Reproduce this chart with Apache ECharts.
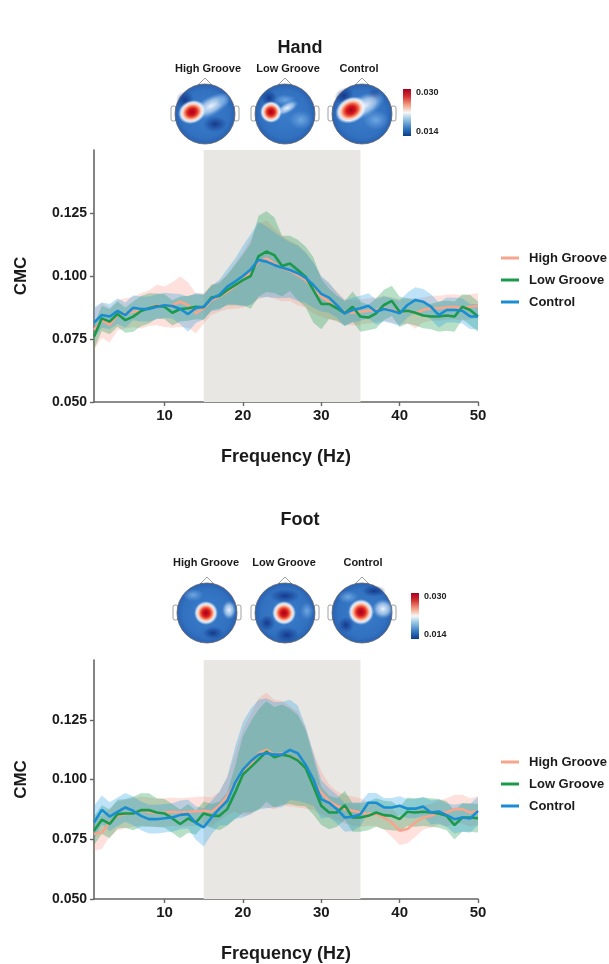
<!DOCTYPE html>
<html><head><meta charset="utf-8">
<script src="https://cdn.jsdelivr.net/npm/echarts@6/dist/echarts.min.js"></script>
<style>html,body{margin:0;padding:0;background:#fff}#c{width:609px;height:964px}</style>
</head><body><div id="c"></div>
<script>
// ---------- data ----------
const freq = [1,2,3,4,5,6,7,8,9,10,11,12,13,14,15,16,17,18,19,20,21,22,23,24,25,26,27,28,29,30,31,32,33,34,35,36,37,38,39,40,41,42,43,44,45,46,47,48,49,50];
const groupNames = ['High Groove','Low Groove','Control'];
const panelTitles = ['Hand','Foot'];
const xTicks = [10,20,30,40,50];
const yTicks = [0.05,0.075,0.1,0.125];
const shadeRange = [15,35];
const colorbarLabels = ['0.030','0.014'];

// Hand: means
const handHigh = [0.0786,0.0825,0.0806,0.0845,0.0852,0.0858,0.0862,0.0872,0.0885,0.0878,0.0885,0.0898,0.0885,0.0852,0.0872,0.0905,0.0918,0.0938,0.0960,0.0984,0.1017,0.1057,0.1070,0.1050,0.1030,0.1021,0.1004,0.0984,0.0951,0.0918,0.0898,0.0878,0.0858,0.0854,0.0858,0.0862,0.0865,0.0872,0.0865,0.0858,0.0862,0.0852,0.0865,0.0872,0.0872,0.0876,0.0878,0.0872,0.0878,0.0882];
const handLow = [0.0759,0.0832,0.0819,0.0849,0.0825,0.0839,0.0861,0.0872,0.0881,0.0878,0.0854,0.0869,0.0872,0.0878,0.0876,0.0915,0.0921,0.0944,0.0964,0.0984,0.1000,0.1079,0.1097,0.1083,0.1040,0.1050,0.1024,0.0997,0.0944,0.0889,0.0889,0.0872,0.0852,0.0878,0.0839,0.0835,0.0852,0.0885,0.0901,0.0858,0.0862,0.0854,0.0843,0.0839,0.0839,0.0843,0.0839,0.0878,0.0865,0.0839];
const handCtrl = [0.0815,0.0845,0.0839,0.0861,0.0845,0.0874,0.0869,0.0869,0.0878,0.0884,0.0881,0.0869,0.0849,0.0873,0.0878,0.0910,0.0925,0.0958,0.0978,0.1000,0.1026,0.1064,0.1057,0.1044,0.1033,0.1024,0.1011,0.0993,0.0964,0.0929,0.0914,0.0884,0.0852,0.0865,0.0872,0.0882,0.0858,0.0869,0.0862,0.0852,0.0885,0.0905,0.0898,0.0878,0.0845,0.0865,0.0865,0.0862,0.0839,0.0839];
// Hand: ribbon half-widths
const handHighSE = [0.008,0.007,0.007,0.006,0.006,0.006,0.007,0.007,0.008,0.008,0.009,0.010,0.009,0.008,0.006,0.006,0.006,0.007,0.009,0.011,0.013,0.015,0.015,0.014,0.013,0.012,0.012,0.011,0.010,0.008,0.007,0.006,0.005,0.005,0.005,0.005,0.005,0.005,0.005,0.005,0.005,0.006,0.005,0.005,0.005,0.005,0.005,0.005,0.005,0.005];
const handLowSE = [0.005,0.005,0.005,0.005,0.005,0.006,0.006,0.006,0.005,0.005,0.005,0.005,0.005,0.005,0.005,0.005,0.005,0.006,0.008,0.010,0.013,0.016,0.016,0.015,0.012,0.011,0.012,0.012,0.013,0.010,0.006,0.005,0.005,0.006,0.006,0.005,0.006,0.006,0.006,0.006,0.005,0.005,0.005,0.005,0.006,0.006,0.006,0.005,0.006,0.006];
const handCtrlSE = [0.006,0.005,0.005,0.005,0.005,0.005,0.005,0.005,0.005,0.005,0.005,0.006,0.007,0.006,0.005,0.005,0.006,0.007,0.009,0.012,0.014,0.015,0.014,0.013,0.012,0.011,0.011,0.010,0.009,0.007,0.006,0.005,0.005,0.005,0.005,0.005,0.005,0.005,0.005,0.005,0.005,0.005,0.005,0.005,0.005,0.005,0.005,0.005,0.005,0.005];

// Foot: means
const footHigh = [0.0772,0.0779,0.0820,0.0848,0.0855,0.0862,0.0869,0.0865,0.0859,0.0862,0.0865,0.0862,0.0865,0.0867,0.0869,0.0865,0.0890,0.0931,0.0986,0.1028,0.1062,0.1110,0.1124,0.1104,0.1110,0.1097,0.1083,0.1048,0.0993,0.0945,0.0910,0.0890,0.0876,0.0869,0.0862,0.0855,0.0855,0.0841,0.0820,0.0786,0.0793,0.0820,0.0841,0.0848,0.0862,0.0862,0.0876,0.0876,0.0862,0.0869];
const footLow = [0.0786,0.0832,0.0814,0.0855,0.0858,0.0858,0.0872,0.0872,0.0862,0.0858,0.0837,0.0814,0.0837,0.0820,0.0858,0.0848,0.0848,0.0876,0.0945,0.1021,0.1052,0.1083,0.1117,0.1093,0.1104,0.1097,0.1080,0.1048,0.0972,0.0890,0.0862,0.0862,0.0892,0.0841,0.0841,0.0848,0.0862,0.0851,0.0848,0.0834,0.0865,0.0862,0.0865,0.0862,0.0858,0.0848,0.0809,0.0841,0.0841,0.0838];
const footCtrl = [0.0820,0.0873,0.0845,0.0865,0.0883,0.0869,0.0848,0.0834,0.0834,0.0838,0.0841,0.0852,0.0855,0.0818,0.0800,0.0841,0.0878,0.0910,0.0986,0.1041,0.1076,0.1104,0.1110,0.1104,0.1104,0.1124,0.1110,0.1062,0.1000,0.0917,0.0903,0.0876,0.0841,0.0844,0.0855,0.0903,0.0903,0.0883,0.0883,0.0890,0.0878,0.0878,0.0887,0.0862,0.0866,0.0851,0.0834,0.0841,0.0837,0.0869];
// Foot: ribbon half-widths
const footHighSE = [0.007,0.007,0.006,0.006,0.006,0.006,0.006,0.006,0.006,0.006,0.006,0.006,0.006,0.006,0.006,0.006,0.006,0.008,0.012,0.018,0.021,0.023,0.024,0.023,0.022,0.021,0.020,0.017,0.012,0.009,0.007,0.006,0.006,0.006,0.006,0.005,0.005,0.005,0.006,0.006,0.006,0.006,0.005,0.005,0.005,0.006,0.006,0.006,0.006,0.006];
const footLowSE = [0.006,0.006,0.006,0.006,0.006,0.007,0.007,0.007,0.006,0.006,0.006,0.006,0.006,0.005,0.005,0.005,0.006,0.007,0.011,0.016,0.019,0.021,0.021,0.021,0.021,0.020,0.019,0.016,0.012,0.008,0.007,0.006,0.006,0.006,0.006,0.006,0.006,0.006,0.006,0.005,0.006,0.006,0.006,0.006,0.006,0.006,0.006,0.006,0.006,0.006];
const footCtrlSE = [0.007,0.006,0.006,0.006,0.006,0.006,0.006,0.006,0.006,0.006,0.006,0.006,0.006,0.007,0.008,0.007,0.007,0.010,0.015,0.020,0.022,0.023,0.023,0.022,0.022,0.021,0.020,0.016,0.011,0.008,0.006,0.006,0.006,0.006,0.005,0.004,0.004,0.004,0.004,0.004,0.004,0.004,0.004,0.005,0.005,0.005,0.006,0.006,0.006,0.006];

// ---------- styles ----------
const lineColors = ['#F7A58C','#1A9A4A','#1A8DD0'];
const bandColors = ['rgba(250,140,120,0.26)','rgba(30,160,80,0.32)','rgba(40,160,228,0.30)'];
const FONT = 'Liberation Sans, Arial, sans-serif';
const axisGray = '#666666';
const cats = freq.map(String);

const grids = [
  {left:94, top:150, width:384, height:252},
  {left:94, top:660, width:384, height:241}
];

function panelSeries(gi, means, ses, tag){
  const s = [];
  means.forEach((m,k)=>{
    const lo = m.map((v,i)=> +(v - ses[k][i]).toFixed(5));
    const span = m.map((v,i)=> +(2*ses[k][i]).toFixed(5));
    const loSeries = {type:'line', name:tag+'_lo'+k, xAxisIndex:gi, yAxisIndex:gi, stack:tag+'_band'+k,
      data:lo, symbol:'none', silent:true, lineStyle:{opacity:0}, z:2};
    if(k===0){
      loSeries.markArea = {silent:true, itemStyle:{color:'#E9E7E3'},
        data:[[{xAxis:String(shadeRange[0])},{xAxis:String(shadeRange[1])}]]};
    }
    s.push(loSeries);
    s.push({type:'line', name:tag+'_span'+k, xAxisIndex:gi, yAxisIndex:gi, stack:tag+'_band'+k,
      data:span, symbol:'none', silent:true, lineStyle:{opacity:0},
      areaStyle:{color:bandColors[k], opacity:1}, z:2});
  });
  means.forEach((m,k)=>{
    s.push({type:'line', name:groupNames[k], xAxisIndex:gi, yAxisIndex:gi,
      data:m, symbol:'none', color:lineColors[k],
      lineStyle:{color:lineColors[k], width:2.6}, itemStyle:{color:lineColors[k]}, z:3+k});
  });
  return s;
}

const isTick = (idx, val) => xTicks.indexOf(Number(val)) >= 0;

function xAxisFor(gi){
  return {type:'category', gridIndex:gi, data:cats, boundaryGap:false,
    axisLine:{show:true, onZero:false, lineStyle:{color:axisGray, width:1.6}},
    axisTick:{show:true, length:4, interval:isTick, lineStyle:{color:axisGray, width:1.4}},
    axisLabel:{interval:isTick, margin:6, color:'#1a1a1a', fontSize:15, fontWeight:'bold', fontFamily:FONT},
    splitLine:{show:false},
    name:'Frequency (Hz)', nameLocation:'middle', nameGap:46,
    nameTextStyle:{color:'#1a1a1a', fontSize:18, fontWeight:'bold', fontFamily:FONT}};
}
function yAxisFor(gi){
  return {type:'value', gridIndex:gi, min:0.05, max:0.15, interval:0.025,
    axisLine:{show:true, onZero:false, lineStyle:{color:axisGray, width:1.6}},
    axisTick:{show:true, length:4, customValues:yTicks, lineStyle:{color:axisGray, width:1.4}},
    axisLabel:{customValues:yTicks, margin:7, color:'#1a1a1a', fontSize:14, fontWeight:'bold', fontFamily:FONT,
      formatter:v => v > 0.14 ? '' : v.toFixed(3)},
    splitLine:{show:false},
    name:'CMC', nameLocation:'middle', nameGap:64, nameRotate:90,
    nameTextStyle:{color:'#1a1a1a', fontSize:17, fontWeight:'bold', fontFamily:FONT}};
}

function legendFor(top){
  return {orient:'vertical', left:501, top:top, padding:0, itemGap:8, icon:'rect',
    itemWidth:18, itemHeight:3, data:groupNames,
    textStyle:{fontSize:13, fontWeight:'bold', color:'#1a1a1a', fontFamily:FONT, lineHeight:14, padding:[0,0,0,5]}};
}

// ---------- topoplot decorations ----------
const gradRed = {type:'radial', x:0.5, y:0.5, r:0.5, colorStops:[
  {offset:0, color:'#a3001c'},{offset:0.3, color:'#d7191c'},{offset:0.48, color:'#f26b4a'},
  {offset:0.62, color:'#fbc5b0'},{offset:0.78, color:'rgba(245,248,252,0.9)'},{offset:1, color:'rgba(200,225,245,0)'}]};
const gradWhite = {type:'radial', x:0.5, y:0.5, r:0.5, colorStops:[
  {offset:0, color:'rgba(245,248,255,0.95)'},{offset:0.55, color:'rgba(180,210,240,0.75)'},{offset:1, color:'rgba(110,165,225,0)'}]};
const gradLight = {type:'radial', x:0.5, y:0.5, r:0.5, colorStops:[
  {offset:0, color:'rgba(120,175,230,0.85)'},{offset:1, color:'rgba(110,165,225,0)'}]};
const gradDark = {type:'radial', x:0.5, y:0.5, r:0.5, colorStops:[
  {offset:0, color:'rgba(18,52,135,0.9)'},{offset:1, color:'rgba(18,52,135,0)'}]};
const gradBase = {type:'radial', x:0.5, y:0.5, r:0.5, colorStops:[
  {offset:0, color:'#3a7ccb'},{offset:0.8, color:'#3171c0'},{offset:1, color:'#2a62b2'}]};
const gradMap = {light:gradLight, white:gradWhite, dark:gradDark, red:gradRed};

// [dx, dy, r, kind, scaleX, scaleY, rotation]
const heads = [
  {cx:205, cy:114, spots:[[-20,-14,9,'dark',1,1,0],[10,10,10,'dark',1.2,0.8,0],[6,-8,14,'white',1.5,0.7,0.5],[18,-14,7,'light',1,1,0],[-13,-2,13,'red',1.1,0.9,0.4]]},
  {cx:285, cy:114, spots:[[-16,-16,8,'dark',1,1,0],[16,6,12,'light',1,0.8,0],[0,-14,8,'light',1.4,0.7,0],[2,-6,9,'white',1.4,0.6,0.5],[-14,-2,11,'red',1,1,0]]},
  {cx:362, cy:114, spots:[[-18,-18,10,'dark',1,0.8,0.5],[12,-18,7,'dark',1,1,0],[14,6,10,'light',1.3,1,0],[2,-8,14,'white',1.6,0.8,0.5],[-11,-4,15,'red',1.1,0.85,0.5]]},
  {cx:207, cy:613, spots:[[-14,-18,8,'light',1.3,0.8,0],[22,-3,8,'white',0.9,1.2,0],[6,20,8,'dark',1.3,0.8,0],[-1,0,12,'red',1,1,0]]},
  {cx:285, cy:613, spots:[[0,-17,10,'dark',1.5,0.7,0],[2,22,10,'dark',1.2,0.8,0],[-18,10,8,'dark',1,1,0],[22,-2,7,'light',1,1.3,0],[-1,0,12,'red',1,1,0]]},
  {cx:362, cy:613, spots:[[12,-22,8,'dark',1.5,0.7,0],[-16,12,8,'dark',1,1,0],[-14,-16,8,'light',1.3,0.8,0],[21,-4,10,'white',1.1,1,0],[-1,-1,13,'red',1,1,0]]}
];
const headLabels = [
  {x:208, y:69, i:0},{x:288, y:69, i:1},{x:359, y:69, i:2},
  {x:206, y:563, i:0},{x:284, y:563, i:1},{x:363, y:563, i:2}
];
const colorbars = [{x:403, y:89, w:8, h:47, lx:416}, {x:411, y:593, w:8, h:46, lx:424}];
const titlePos = [{x:300, y:48}, {x:300, y:520}];

const graphics = [];
panelTitles.forEach((t,i)=>{
  graphics.push({type:'text', x:titlePos[i].x, y:titlePos[i].y, z:100,
    style:{text:t, fontSize:18, fontWeight:'bold', fontFamily:FONT, fill:'#1a1a1a', textAlign:'center', textVerticalAlign:'middle'}});
});
headLabels.forEach(h=>{
  graphics.push({type:'text', x:h.x, y:h.y, z:100,
    style:{text:groupNames[h.i], fontSize:11, fontWeight:'bold', fontFamily:FONT, fill:'#1a1a1a', textAlign:'center', textVerticalAlign:'middle'}});
});
heads.forEach(h=>{
  const R = 30;
  const ch = [];
  ch.push({type:'polygon', shape:{points:[[h.cx-7,h.cy-R+1],[h.cx,h.cy-R-6],[h.cx+7,h.cy-R+1]]}, style:{fill:'#fff', stroke:'#888', lineWidth:0.8}});
  ch.push({type:'rect', shape:{x:h.cx-R-4, y:h.cy-8, width:5, height:15, r:2}, style:{fill:'#fff', stroke:'#888', lineWidth:0.8}});
  ch.push({type:'rect', shape:{x:h.cx+R-1, y:h.cy-8, width:5, height:15, r:2}, style:{fill:'#fff', stroke:'#888', lineWidth:0.8}});
  ch.push({type:'circle', shape:{cx:h.cx, cy:h.cy, r:R}, style:{fill:gradBase}});
  h.spots.forEach(s=>{
    ch.push({type:'circle', x:h.cx+s[0], y:h.cy+s[1], scaleX:s[4], scaleY:s[5], rotation:s[6],
      shape:{cx:0, cy:0, r:s[2]}, style:{fill:gradMap[s[3]]}});
  });
  ch.push({type:'circle', shape:{cx:h.cx, cy:h.cy, r:R}, style:{fill:'none', stroke:'#666', lineWidth:0.8}});
  graphics.push({type:'group', z:100, children:ch});
});
colorbars.forEach(c=>{
  graphics.push({type:'rect', z:100, shape:{x:c.x, y:c.y, width:c.w, height:c.h},
    style:{fill:{type:'linear', x:0, y:0, x2:0, y2:1, colorStops:[
      {offset:0, color:'#a50021'},{offset:0.15, color:'#d42a2e'},{offset:0.35, color:'#f3a58a'},
      {offset:0.5, color:'#f7f7f7'},{offset:0.65, color:'#93c3e2'},{offset:0.85, color:'#2f74bd'},{offset:1, color:'#0b3b88'}]}}});
  graphics.push({type:'text', z:100, x:c.lx, y:c.y+4, style:{text:colorbarLabels[0], fontSize:9, fontWeight:'bold', fontFamily:FONT, fill:'#222', textVerticalAlign:'middle'}});
  graphics.push({type:'text', z:100, x:c.lx, y:c.y+c.h-4, style:{text:colorbarLabels[1], fontSize:9, fontWeight:'bold', fontFamily:FONT, fill:'#222', textVerticalAlign:'middle'}});
});

const chart = echarts.init(document.getElementById('c'), null, {renderer:'canvas'});
chart.setOption({
  animation:false,
  backgroundColor:'#fff',
  grid:grids,
  xAxis:[xAxisFor(0), xAxisFor(1)],
  yAxis:[yAxisFor(0), yAxisFor(1)],
  legend:[legendFor(251), legendFor(755)],
  series:[].concat(
    panelSeries(0, [handHigh, handLow, handCtrl], [handHighSE, handLowSE, handCtrlSE], 'hand'),
    panelSeries(1, [footHigh, footLow, footCtrl], [footHighSE, footLowSE, footCtrlSE], 'foot')
  ),
  graphic:graphics
});
</script>
</body></html>
